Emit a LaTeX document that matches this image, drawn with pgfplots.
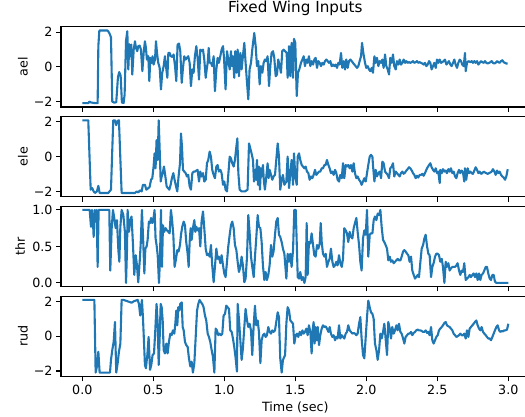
\documentclass[border=0pt]{standalone}
\usepackage{fontspec}
\setmainfont{DejaVu Sans}
\usepackage{pgfplots}
\pgfplotsset{compat=1.18}
\definecolor{mplblue}{HTML}{1F77B4}
\newcommand{\lblfont}{\fontsize{12.7}{15}\selectfont}
\pgfplotsset{
  sub/.style={
    scale only axis, width=468.6pt, height=80.3pt,
    xmin=-0.15, xmax=3.15,
    xtick={0,0.5,1,1.5,2,2.5,3},
    xticklabels={},
    tick align=outside, tick pos=left,
    major tick length=4.9pt,
    minor tick num=0,
    every tick/.style={black, line width=1.1pt},
    axis line style={line width=1.1pt},
    tick label style={font=\lblfont},
    label style={font=\lblfont},
    clip=true,
  },
  pm/.style={ymin=-2.31, ymax=2.31, ytick={-2,0,2}, yticklabels={−2,0,2},
    ylabel style={at={(axis description cs:-0.0811,0.5)}, anchor=center}},
  line/.style={mplblue, line width=2.1pt, line join=round}
}
\begin{document}
\begin{tikzpicture}
\useasboundingbox (0pt,0pt) rectangle (525pt,417pt);

% ---------------- ael ----------------
\begin{axis}[sub, pm, at={(61pt,310.0pt)}, anchor=south west, ylabel={ael},
  title={Fixed Wing Inputs},
  title style={font=\fontsize{15.2}{18}\selectfont, at={(0.5,1)}, anchor=base, yshift=8.3pt}]
\addplot[line] coordinates {
(0,-2.09)(0.03,-2.09)(0.042,-2.09)(0.05,-2.0)(0.061,-2.05)(0.085,-2.08)(0.108,-2.09)(0.113,1.2)(0.12,2.09)(0.178,2.09)(0.19,1.95)(0.202,1.7)(0.211,-2.0)(0.225,-2.06)(0.239,-2.04)(0.251,-0.6)(0.26,-0.3)(0.27,-0.5)(0.279,-2.05)(0.291,-2.08)(0.298,-1.6)(0.308,1.5)(0.317,2.05)(0.324,-0.15)(0.331,1.3)
(0.338,0.61)(0.345,1.28)(0.352,-0.44)(0.362,0.99)(0.371,1.47)(0.378,1.09)(0.387,0.9)(0.394,1.19)(0.404,1.22)(0.413,0.99)(0.423,-0.25)(0.432,0.8)(0.441,1.47)(0.448,1.09)(0.455,0.42)(0.465,0.61)(0.472,-0.82)(0.479,0.52)(0.488,0.23)(0.495,0.61)(0.502,0.13)(0.512,0.42)(0.519,1.47)(0.526,0.8)(0.535,0.23)(0.545,-0.06)(0.554,-1.3)(0.563,-0.34)(0.573,0.04)(0.582,0.61)(0.592,-0.15)(0.599,-0.63)(0.606,0.8)(0.615,0.8)(0.624,0.61)(0.634,0.57)(0.643,0.71)(0.653,0.04)(0.662,-0.82)(0.671,1.28)(0.681,1.34)(0.69,0.9)(0.7,-0.92)(0.709,-0.06)(0.718,0.61)(0.728,0.42)(0.737,0.52)(0.746,0.61)(0.756,0.23)(0.765,-1.11)(0.775,-0.15)(0.784,-0.34)(0.793,0.61)(0.803,1.19)(0.812,0.52)(0.822,-0.73)(0.831,0.99)(0.84,0.9)(0.85,0.99)(0.859,0.42)(0.869,-0.63)(0.876,-0.15)(0.883,0.23)(0.89,1.09)(0.897,0.23)(0.906,0.23)(0.915,0.04)(0.925,0.61)(0.934,-1.4)(0.944,-0.15)(0.953,0.52)(0.962,0.23)(0.972,0.61)(0.981,0.99)(0.991,1.19)(0.998,0.52)
(1.009,-1.3)(1.019,0.9)(1.028,0.42)(1.038,-0.15)(1.047,0.9)(1.054,0.04)(1.061,0.61)(1.07,-0.63)(1.077,0.9)(1.085,-0.34)(1.094,0.99)(1.103,-0.54)(1.113,0.8)(1.122,-0.15)(1.131,0.61)(1.141,1.38)(1.15,0.23)(1.16,-0.92)(1.169,-1.87)(1.178,-0.15)(1.188,0.23)(1.197,0.99)(1.211,1.95)(1.221,1.19)(1.23,0.04)(1.239,0.33)(1.249,-1.01)(1.258,0.04)(1.268,-0.34)(1.277,0.23)(1.286,0.42)(1.296,0.33)(1.305,0.61)(1.315,-1.11)(1.324,0.04)(1.333,0.8)(1.343,0.9)(1.352,0.52)(1.362,-0.54)(1.371,-0.44)(1.38,0.42)(1.39,0.04)(1.399,-0.34)(1.408,0.9)(1.418,0.99)
(1.439,0.8)(1.446,-0.63)(1.456,1.19)(1.465,-0.54)(1.474,1.38)(1.484,-0.63)(1.491,1.61)(1.5,1.38)(1.51,-1.68)(1.519,-0.34)(1.528,-0.15)(1.54,0.23)(1.55,0.42)(1.559,0.61)(1.568,0.04)(1.578,0.42)(1.587,0.23)(1.596,0.61)(1.606,0.04)(1.615,0.33)(1.625,0.13)(1.634,0.42)(1.643,0.52)(1.653,-0.06)(1.662,0.33)(1.672,0.23)(1.681,0.04)(1.69,0.23)(1.7,0.13)(1.709,0.33)(1.719,0.42)(1.728,0.33)(1.737,0.23)(1.747,0.33)(1.756,0.04)(1.766,0.13)(1.775,0.04)(1.784,0.13)(1.794,-0.06)(1.803,0.23)(1.812,0.13)(1.822,0.8)(1.831,-0.06)(1.841,0.33)(1.85,-0.15)(1.859,0.42)(1.869,-0.06)(1.878,0.33)(1.888,0.42)(1.897,0.33)(1.906,0.23)(1.916,0.13)(1.925,0.04)(1.935,-0.06)(1.944,0.04)(1.953,0.33)(1.963,0.61)(1.97,1.38)(1.979,0.8)(1.991,0.23)
(2.0,-0.06)(2.01,0.04)(2.019,-0.15)(2.028,-0.25)(2.038,-0.06)(2.047,-0.34)(2.057,0.61)(2.066,0.23)(2.075,0.52)(2.085,0.04)(2.094,0.33)(2.104,0.23)(2.113,0.42)(2.122,-0.06)(2.132,0.71)(2.141,0.04)(2.151,-0.15)(2.16,-0.44)(2.169,0.52)(2.179,0.23)(2.188,0.71)(2.197,0.04)(2.207,-0.15)(2.216,0.33)(2.226,0.13)(2.235,0.42)(2.244,0.13)(2.254,0.23)(2.263,0.42)(2.273,0.23)(2.282,0.33)(2.291,0.23)(2.301,0.27)(2.31,0.23)(2.32,0.27)(2.329,0.33)(2.338,0.23)(2.348,0.27)(2.357,0.33)(2.366,0.23)(2.376,0.27)(2.385,0.23)(2.395,0.19)(2.404,0.13)(2.413,0.23)(2.423,0.04)(2.432,0.13)(2.442,0.33)(2.451,0.23)(2.46,-0.15)(2.47,0.04)(2.479,0.23)(2.489,-0.06)(2.498,0.42)
(2.507,0.23)(2.517,0.42)(2.526,0.23)(2.535,0.27)(2.545,0.33)(2.554,0.42)(2.564,0.13)(2.573,0.23)(2.582,0.33)(2.592,0.13)(2.601,0.04)(2.611,0.23)(2.62,0.42)(2.629,0.13)(2.639,-0.06)(2.648,0.23)(2.658,0.42)(2.667,0.33)(2.676,0.13)(2.686,0.04)(2.695,0.8)(2.7,-0.25)(2.709,0.23)(2.719,0.33)(2.733,0.27)(2.742,0.33)(2.751,0.23)(2.761,0.33)(2.77,0.23)(2.78,0.33)(2.789,0.13)(2.798,0.23)(2.808,0.33)(2.817,0.27)(2.827,0.23)(2.836,0.33)(2.845,0.23)(2.855,0.19)(2.864,0.23)(2.874,0.27)(2.883,0.33)(2.892,0.23)(2.902,0.19)(2.911,0.23)(2.921,0.33)(2.93,0.27)(2.939,0.23)(2.949,0.33)(2.958,0.38)(2.967,0.27)(2.977,0.23)(2.986,0.19)(2.996,0.19)
};
\end{axis}

% ---------------- ele ----------------
\begin{axis}[sub, pm, at={(61pt,220.2pt)}, anchor=south west, ylabel={ele}]
\addplot[line] coordinates {
(0,2.09)(0.042,2.09)(0.059,-1.9)(0.07,-1.81)(0.08,-2.0)(0.089,-2.09)(0.103,-2.0)(0.113,-1.68)(0.122,-2.09)(0.183,-2.09)(0.202,-1.9)(0.211,0.38)(0.218,2.09)(0.23,2.09)(0.239,1.81)(0.249,2.06)(0.258,2.09)(0.277,-2.09)(0.371,-2.09)(0.383,-2.0)(0.394,-2.06)(0.406,-1.94)(0.418,-2.0)(0.427,-1.62)(0.441,-1.62)(0.451,-1.9)(0.465,-1.81)(0.474,-1.75)(0.484,-1.33)(0.493,-1.24)(0.502,-0.57)(0.509,0.19)(0.516,-0.67)(0.523,0.95)(0.531,-0.19)(0.538,2.09)(0.545,0.38)(0.552,-1.43)(0.559,-1.14)(0.566,-0.95)(0.575,-0.57)(0.585,-1.14)(0.594,-1.71)(0.603,-1.81)(0.613,-1.9)(0.622,-1.62)(0.631,-1.24)(0.641,-0.95)(0.65,-1.33)(0.66,-1.71)(0.669,-2.0)(0.678,-1.14)(0.688,-0.38)(0.695,1.33)(0.702,0.57)(0.709,-0.76)(0.718,-0.86)(0.728,-0.95)(0.737,-1.14)(0.746,-1.05)(0.756,-1.71)(0.765,-1.9)(0.775,-0.95)(0.784,-0.86)(0.793,-0.86)(0.803,-0.8)(0.812,-0.76)(0.822,-1.43)(0.831,-0.86)(0.84,-1.14)(0.85,-0.95)(0.859,-1.43)(0.869,-1.33)(0.878,-0.38)(0.887,-0.19)(0.897,0.29)(0.906,0)(0.915,-0.76)(0.925,-1.05)(0.934,-1.24)(0.944,-0.57)(0.953,-0.48)(0.962,-0.86)(0.972,-0.76)(0.981,-0.95)(0.991,-1.62)(1.0,-1.43)
(1.009,-1.9)(1.019,-2.0)(1.028,-1.05)(1.038,0)(1.047,-0.1)(1.056,-0.38)(1.066,-0.57)(1.075,-0.19)(1.085,0.57)(1.092,1.05)(1.099,-0.95)(1.108,-1.9)(1.122,-2.0)(1.146,-2.0)(1.164,-1.9)(1.174,0.76)(1.183,0.48)(1.192,0.19)(1.202,-0.19)(1.209,-1.43)(1.216,-0.76)(1.223,-1.33)(1.23,-0.19)(1.237,-1.62)(1.244,-0.57)(1.251,-1.9)(1.258,-0.67)(1.265,-1.14)(1.272,-0.48)(1.279,-1.43)(1.286,-1.9)(1.296,-1.14)(1.305,-0.38)(1.312,-1.24)(1.319,-0.76)(1.329,-1.05)(1.338,-1.33)(1.347,-1.14)(1.357,-1.05)(1.366,-0.19)(1.376,0.76)(1.385,0)(1.394,-1.9)(1.404,-1.33)(1.413,-1.05)(1.423,-1.62)
(1.437,-1.43)(1.446,0)(1.456,-1.81)(1.465,-0.95)(1.474,-0.19)(1.484,-1.62)(1.491,0.19)(1.5,-1.14)(1.51,-1.62)(1.517,0)(1.526,0.19)(1.535,-0.19)(1.545,-0.48)(1.554,-0.57)(1.564,-0.67)(1.573,-0.57)(1.582,-0.86)(1.592,-0.95)(1.601,-1.33)(1.611,-1.14)(1.62,-1.24)(1.629,-1.05)(1.639,-0.76)(1.648,-1.05)(1.658,-0.95)(1.667,-0.86)(1.676,-0.86)(1.686,-0.67)(1.695,-0.67)(1.705,-0.48)(1.714,-0.48)(1.723,-0.19)(1.733,-0.48)(1.742,-0.67)(1.751,-0.95)(1.761,-0.86)(1.77,-1.05)(1.78,-0.76)(1.789,-0.95)(1.798,-1.33)(1.808,-1.43)(1.817,-1.05)(1.827,-1.24)(1.836,-0.38)(1.845,-1.24)(1.855,-0.48)(1.864,-0.57)(1.873,-0.48)(1.883,-0.67)(1.892,-0.48)(1.902,-0.86)(1.911,-0.38)(1.92,-0.95)(1.93,-1.24)(1.939,-1.14)(1.949,-1.33)(1.958,-1.43)(1.967,-1.62)(1.977,-1.43)(1.986,-1.24)(1.996,-1.43)
(2.005,-0.95)(2.014,-0.48)(2.024,0)(2.033,0.1)(2.043,0)(2.047,-0.48)(2.057,-1.43)(2.066,-0.76)(2.075,-1.14)(2.085,-0.95)(2.094,-0.86)(2.104,-1.24)(2.113,-0.29)(2.122,-0.38)(2.132,-0.86)(2.141,-0.95)(2.151,-1.05)(2.16,-1.24)(2.169,-0.67)(2.179,-0.57)(2.188,-0.38)(2.197,-1.14)(2.207,-0.86)(2.216,-0.95)(2.226,-1.05)(2.235,-1.14)(2.244,-0.95)(2.254,-0.86)(2.263,-0.99)(2.273,-0.91)(2.282,-0.8)(2.291,-0.72)(2.301,-0.61)(2.31,-0.67)(2.32,-0.8)(2.329,-0.95)(2.338,-1.05)(2.348,-1.24)(2.357,-1.1)(2.366,-1.2)(2.376,-1.05)(2.385,-1.05)(2.395,-0.99)(2.404,-1.1)(2.413,-0.95)(2.423,-0.76)(2.432,-0.61)(2.442,-0.48)(2.451,-0.38)(2.46,-0.61)(2.47,-0.76)(2.479,-0.86)(2.489,-0.67)(2.498,-0.95)
(2.507,-0.86)(2.517,-1.52)(2.521,-0.76)(2.531,-0.95)(2.54,-0.72)(2.55,-0.86)(2.559,-0.8)(2.568,-0.95)(2.578,-0.72)(2.587,-0.86)(2.596,-0.67)(2.606,-0.95)(2.615,-0.86)(2.625,-1.14)(2.634,-1.24)(2.643,-0.95)(2.653,-0.76)(2.662,-0.95)(2.672,-0.8)(2.681,-0.91)(2.69,-1.43)(2.695,-0.67)(2.704,-1.33)(2.714,-0.67)(2.723,-0.95)(2.733,-0.86)(2.742,-0.95)(2.751,-0.99)(2.761,-0.8)(2.77,-0.61)(2.78,-0.76)(2.789,-0.95)(2.798,-0.86)(2.808,-0.99)(2.817,-0.95)(2.827,-0.86)(2.836,-0.91)(2.845,-0.95)(2.855,-0.99)(2.864,-0.95)(2.874,-0.91)(2.883,-0.86)(2.892,-0.72)(2.902,-0.86)(2.911,-1.05)(2.921,-0.8)(2.93,-0.95)(2.939,-0.86)(2.949,-1.05)(2.958,-1.14)(2.967,-1.2)(2.977,-1.33)(2.986,-1.14)(2.996,-0.72)
};
\end{axis}

% ---------------- thr ----------------
\begin{axis}[sub, at={(61pt,130.4pt)}, anchor=south west, ylabel={thr},
  ymin=-0.05, ymax=1.05, ytick={0,0.5,1}, yticklabels={0.0,0.5,1.0},
  ylabel style={at={(axis description cs:-0.0875,0.5)}, anchor=center}]
\addplot[line] coordinates {
(0,1.0)(0.042,1.0)(0.052,1.0)(0.061,0.77)(0.068,1.0)(0.075,0.84)(0.08,0.63)(0.087,1.0)(0.094,0.84)(0.101,1.0)(0.108,0.22)(0.115,1.0)(0.19,1.0)(0.197,0.17)(0.207,0.75)(0.216,1.0)(0.225,0.89)(0.235,0.75)(0.244,0.86)(0.254,0.45)(0.261,0.29)(0.268,0.77)(0.277,1.0)(0.289,0.93)(0.3,0.7)(0.308,0.0)(0.315,0.47)(0.319,1.0)(0.329,0.7)(0.338,0.86)(0.347,0.91)(0.357,0.52)(0.366,0.11)(0.376,0.38)(0.385,0.24)(0.394,0.01)(0.404,0.29)(0.411,0.52)(0.42,1.0)(0.43,0.52)(0.437,0.13)(0.444,0.47)(0.453,0.5)(0.46,0.59)(0.469,0.84)(0.477,0.82)(0.484,0.89)(0.493,0.82)(0.502,0.89)(0.509,1.0)(0.516,0.61)(0.523,0.52)(0.531,0.38)(0.54,0.0)(0.547,0.33)(0.554,1.0)(0.561,0.22)(0.568,0.79)(0.577,0.7)(0.587,0.75)(0.596,0.72)(0.606,0.7)(0.615,0.68)(0.624,1.0)(0.631,0.89)(0.641,0.66)(0.65,0.22)(0.66,0.33)(0.669,0.45)(0.678,0.43)(0.688,0.52)(0.695,0.66)(0.704,0.77)(0.714,0.84)(0.723,0.79)(0.732,0.56)(0.742,0.4)(0.749,0.22)(0.756,0.56)(0.763,0.75)(0.77,0.59)(0.779,0.75)(0.789,0.86)(0.796,0.7)(0.803,0.77)(0.812,0.72)(0.822,0.75)(0.831,0.5)(0.84,0.84)(0.85,0.98)(0.859,0.75)(0.869,0.47)(0.878,0.38)(0.887,0.4)(0.897,0.36)(0.906,0.52)(0.915,0.24)(0.925,0.01)(0.934,0.22)(0.944,0.47)(0.953,0.33)(0.962,0.36)(0.972,0.27)(0.981,0.38)(0.991,0.24)(1.0,0.13)
(1.009,0.08)(1.019,0.29)(1.028,0.5)(1.038,0.66)(1.047,0.79)(1.056,0.84)(1.066,0.75)(1.075,0.52)(1.085,0.45)(1.094,0.29)(1.103,0.15)(1.113,0.22)(1.122,0.36)(1.131,0.24)(1.141,0.01)(1.15,0.06)(1.16,0.36)(1.169,0.93)(1.178,0.7)(1.188,0.36)(1.197,0.22)(1.207,0.08)(1.216,0.36)(1.225,0.61)(1.235,0.93)(1.244,0.77)(1.254,0.75)(1.263,0.56)(1.272,0.24)(1.282,0.04)(1.291,0.15)(1.3,0.04)(1.31,0.11)(1.319,0.24)(1.329,0.52)(1.338,0.36)(1.347,0.43)(1.357,0.66)(1.366,0.84)(1.376,0.89)(1.385,0.66)(1.394,0.63)(1.404,0.56)(1.413,0.47)(1.423,0.4)
(1.437,0.06)(1.446,0.4)(1.456,0.29)(1.465,0.4)(1.474,0.22)(1.484,0.45)(1.493,1.0)(1.503,1.0)(1.512,0.43)(1.517,0.08)(1.526,0.06)(1.535,0.15)(1.545,0.04)(1.554,0.08)(1.564,0.0)(1.573,0.08)(1.58,0.82)(1.587,0.11)(1.596,0.56)(1.606,0.54)(1.615,0.68)(1.625,0.52)(1.634,0.38)(1.643,0.36)(1.653,0.52)(1.662,0.47)(1.672,0.54)(1.679,0.82)(1.686,0.56)(1.695,0.4)(1.705,0.36)(1.714,0.4)(1.723,0.22)(1.733,0.29)(1.742,0.33)(1.751,0.47)(1.761,0.29)(1.77,0.22)(1.78,0.24)(1.789,0.29)(1.798,0.24)(1.808,0.38)(1.817,0.27)(1.827,0.22)(1.836,0.33)(1.845,0.75)(1.855,0.72)(1.864,0.68)(1.873,0.56)(1.883,0.7)(1.892,0.63)(1.902,0.61)(1.911,0.75)(1.92,0.82)(1.93,0.89)(1.939,0.7)(1.949,0.52)(1.958,0.29)(1.967,0.17)(1.977,0.61)(1.986,0.72)(1.996,0.66)
(2.005,1.0)(2.014,0.36)(2.024,0.66)(2.033,0.68)(2.043,0.68)(2.052,0.86)(2.061,0.91)(2.071,0.86)(2.08,0.95)(2.09,0.93)(2.099,1.0)(2.108,0.77)(2.118,0.59)(2.127,0.56)(2.136,0.52)(2.146,0.47)(2.155,0.31)(2.165,0.36)(2.174,0.29)(2.183,0.31)(2.193,0.27)(2.202,0.29)(2.212,0.31)(2.221,0.33)(2.23,0.31)(2.24,0.31)(2.249,0.36)(2.259,0.43)(2.268,0.45)(2.277,0.43)(2.287,0.4)(2.296,0.38)(2.305,0.29)(2.315,0.36)(2.324,0.17)(2.334,0.11)(2.343,0.06)(2.352,0.08)(2.362,0.11)(2.371,0.08)(2.381,0.29)(2.39,0.47)(2.4,0.52)(2.409,0.61)(2.418,0.66)(2.428,0.5)(2.437,0.4)(2.446,0.38)(2.456,0.08)(2.465,0.22)(2.474,0.27)(2.484,0.36)(2.493,0.4)
(2.503,0.4)(2.512,0.38)(2.521,0.29)(2.531,0.33)(2.54,0.22)(2.55,0.0)(2.559,0.29)(2.568,0.22)(2.578,0.27)(2.587,0.17)(2.596,0.2)(2.606,0.22)(2.615,0.22)(2.625,0.22)(2.634,0.24)(2.643,0.27)(2.653,0.17)(2.662,0.11)(2.672,0.17)(2.681,0.15)(2.69,0.27)(2.7,0.04)(2.709,0.06)(2.719,0.08)(2.728,0.11)(2.737,0.08)(2.747,0.11)(2.756,0.13)(2.765,0.08)(2.775,0.13)(2.784,0.04)(2.794,0.13)(2.803,0.04)(2.812,0.11)(2.822,0.13)(2.831,0.17)(2.841,0.22)(2.85,0.22)(2.859,0.13)(2.869,0.06)(2.878,0.04)(2.888,0.11)(2.897,0.11)(2.906,0.02)(2.916,0.0)(3.0,0.0)
};
\end{axis}

% ---------------- rud ----------------
\begin{axis}[sub, pm, at={(61pt,40.6pt)}, anchor=south west, ylabel={rud},
  xticklabels={0.0,0.5,1.0,1.5,2.0,2.5,3.0},
  xlabel={Time (sec)},
  xlabel style={at={(axis description cs:0.5,0)}, anchor=base, yshift=-35.6pt}]
\addplot[line] coordinates {
(0,2.09)(0.077,2.09)(0.085,2.09)(0.094,-2.09)(0.103,-1.74)(0.113,-0.89)(0.122,-2.09)(0.195,-2.09)(0.202,-1.36)(0.211,-0.8)(0.221,-0.32)(0.23,0.82)(0.239,-2.09)(0.249,-1.55)(0.258,-0.89)(0.268,-0.42)(0.277,2.09)(0.291,2.09)(0.305,2.05)(0.319,2.01)(0.333,1.97)(0.347,1.93)(0.362,2.01)(0.376,2.05)(0.39,2.09)(0.399,1.86)(0.408,1.19)(0.413,1.57)(0.42,2.09)(0.427,1.1)(0.434,-0.23)(0.441,-1.65)(0.448,-1.84)(0.458,-1.08)(0.467,-0.04)(0.477,-1.93)(0.486,-1.65)(0.495,-1.08)(0.505,-0.99)(0.514,0.34)(0.523,1.86)(0.531,0.72)(0.538,-1.65)(0.545,-0.04)(0.552,1.86)(0.559,1.67)(0.566,0.91)(0.573,-0.8)(0.582,-0.99)(0.592,-0.42)(0.601,-0.99)(0.61,-0.32)(0.62,0.15)(0.629,0.06)(0.638,0.34)(0.648,0.15)(0.655,0.72)(0.662,1.48)(0.669,0.63)(0.676,1.67)(0.683,1.48)(0.69,1.86)(0.7,1.95)(0.707,0.53)(0.714,0.34)(0.723,-0.32)(0.732,-0.51)(0.742,-0.61)(0.751,-1.27)(0.761,-1.74)(0.77,-1.46)(0.779,-2.09)(0.789,-1.55)(0.798,-0.13)(0.808,1.48)(0.817,1.86)(0.826,2.09)(0.836,1.95)(0.845,1.86)(0.854,1.67)(0.864,1.19)(0.873,0.91)(0.883,0.15)(0.892,-0.04)(0.901,-0.32)(0.911,-0.8)(0.92,-1.18)(0.93,-2.09)(0.939,0.44)(0.948,0.34)(0.958,0.06)(0.967,0.15)(0.977,0.06)(0.986,0.15)(0.995,1.19)
(1.005,1.29)(1.014,1.76)(1.023,1.67)(1.033,1.57)(1.042,0.34)(1.052,0.25)(1.061,-0.13)(1.07,-0.61)(1.08,-1.27)(1.089,-2.03)(1.094,1.86)(1.103,1.0)(1.113,-0.23)(1.122,-1.36)(1.131,-0.7)(1.141,0.53)(1.15,1.57)(1.16,0.91)(1.169,0.53)(1.178,0.72)(1.188,0.34)(1.197,-1.08)(1.207,0.63)(1.216,1.76)(1.225,0.63)(1.235,0.91)(1.244,0.25)(1.254,-1.55)(1.263,-0.23)(1.272,0.06)(1.282,0.15)(1.291,-0.04)(1.3,0.06)(1.31,0.53)(1.319,0.25)(1.329,0.15)(1.338,0.34)(1.347,0.25)(1.357,0.34)(1.366,0.82)(1.376,1.38)(1.385,1.1)(1.394,-1.27)(1.404,-2.09)(1.413,-1.36)(1.423,-1.18)
(1.428,-1.08)(1.437,0.72)(1.446,1.67)(1.456,1.48)(1.465,0.91)(1.474,0.82)(1.484,0.72)(1.493,-0.42)(1.503,0.06)(1.512,0.15)(1.521,-0.04)(1.531,0.25)(1.54,0.06)(1.55,0.34)(1.559,0.15)(1.568,0.25)(1.578,0.44)(1.587,0.06)(1.596,0.63)(1.606,0.25)(1.615,-0.99)(1.622,0.34)(1.629,0.82)(1.636,-0.42)(1.643,0.53)(1.651,-0.23)(1.658,0.53)(1.667,-0.51)(1.676,0.06)(1.686,0.44)(1.695,0.63)(1.705,0.53)(1.714,0.57)(1.723,0.44)(1.733,0.25)(1.742,0.53)(1.751,0.15)(1.761,-0.04)(1.77,0.06)(1.78,-0.23)(1.789,-0.04)(1.798,-0.13)(1.808,0.63)(1.817,-0.13)(1.827,0.06)(1.836,-0.04)(1.845,-0.13)(1.855,0.15)(1.864,0.25)(1.873,0.63)(1.883,0.34)(1.892,0.25)(1.902,0.15)(1.911,0.19)(1.92,0.15)(1.93,0.06)(1.939,0.15)(1.949,0.72)(1.958,1.1)(1.967,-0.13)(1.977,-1.08)(1.986,-1.27)(1.996,-0.04)
(2.005,1.1)(2.014,2.05)(2.024,1.67)(2.033,1.38)(2.043,1.29)(2.052,1.0)(2.061,-0.42)(2.071,-0.8)(2.08,-1.36)(2.09,-0.8)(2.099,0.15)(2.108,-0.13)(2.118,0.25)(2.127,0.72)(2.136,-0.13)(2.146,-1.08)(2.155,0.82)(2.165,0.44)(2.174,-0.13)(2.183,0.53)(2.193,0.15)(2.202,0.34)(2.212,0.63)(2.221,0.34)(2.23,0.72)(2.24,0.25)(2.249,0.15)(2.259,-0.13)(2.268,-0.42)(2.277,-0.04)(2.287,0.06)(2.296,0.15)(2.305,0.15)(2.315,0.25)(2.324,0.06)(2.334,0.19)(2.343,0.25)(2.352,0.34)(2.362,0.38)(2.371,0.34)(2.381,0.34)(2.39,0.3)(2.4,0.25)(2.409,0.25)(2.418,0.34)(2.428,0.19)(2.437,0.25)(2.446,0.06)(2.456,0.53)(2.465,-0.23)(2.474,-0.42)(2.484,-0.23)(2.493,-0.04)
(2.503,0.06)(2.512,0.34)(2.521,0.44)(2.531,0.53)(2.54,0.63)(2.55,0.76)(2.559,0.82)(2.568,0.63)(2.578,0.57)(2.587,0.53)(2.596,0.44)(2.606,0.34)(2.615,0.15)(2.625,0.06)(2.634,-0.04)(2.643,0.0)(2.653,0.06)(2.662,0.15)(2.672,0.06)(2.681,0.06)(2.69,0.15)(2.7,-0.13)(2.709,0.34)(2.719,-0.04)(2.728,0.44)(2.737,0.53)(2.747,0.63)(2.756,0.72)(2.765,0.82)(2.775,0.91)(2.784,0.63)(2.794,0.44)(2.803,0.34)(2.812,0.53)(2.822,0.25)(2.831,0.15)(2.841,0.06)(2.85,-0.04)(2.859,-0.13)(2.869,-0.13)(2.878,-0.23)(2.888,-0.04)(2.897,0.15)(2.906,0.34)(2.916,0.53)(2.925,0.63)(2.935,0.34)(2.944,0.25)(2.954,0.3)(2.963,0.28)(2.972,0.34)(2.981,0.34)(2.991,0.38)(3.0,0.72)
};
\end{axis}
\end{tikzpicture}
\end{document}
